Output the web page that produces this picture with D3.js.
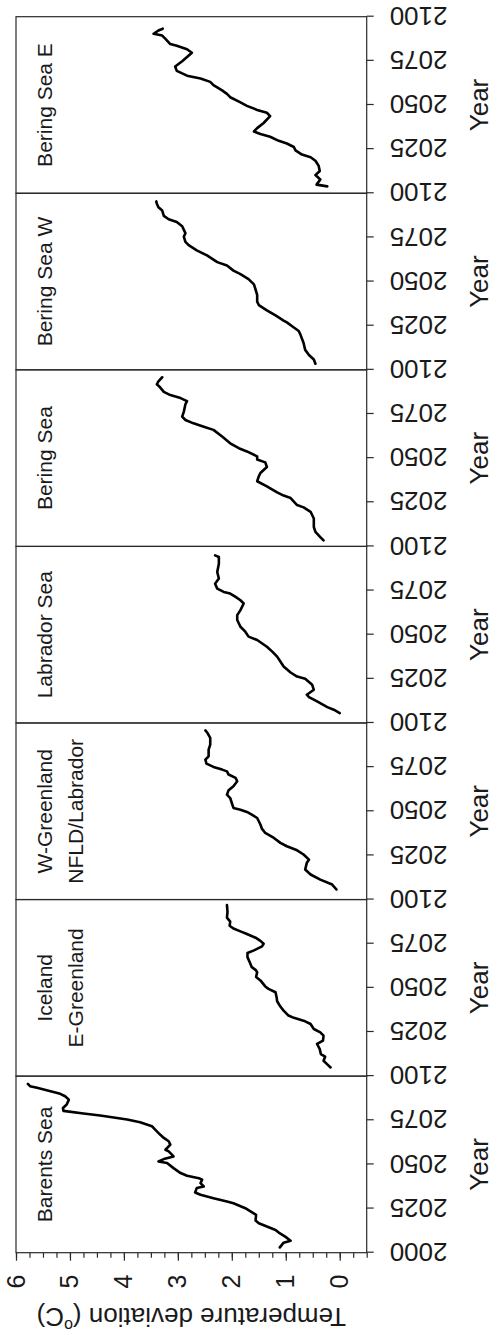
<!DOCTYPE html>
<html><head><meta charset="utf-8">
<script src="https://cdn.jsdelivr.net/npm/d3@7/dist/d3.min.js"></script>
<style>
body{margin:0;background:#fff}
svg{display:block}
text{font-family:"Liberation Sans",Arial,Helvetica,sans-serif;fill:#1a1a1a}
</style>
</head><body>
<svg id="chart" width="497" height="1335"></svg>
<script>
// ---- data ----
const regions = [["Barents Sea"], ["Iceland", "E-Greenland"], ["W-Greenland", "NFLD/Labrador"], ["Labrador Sea"], ["Bering Sea"], ["Bering Sea W"], ["Bering Sea E"]];
const tempTicks = [0, 1, 2, 3, 4, 5, 6];
const yearTicksFirst = [2000, 2025, 2050, 2075, 2100];
const yearTicks = [2025, 2050, 2075, 2100];

const barentsYears = [2003.0, 2005.7, 2006.8, 2009.1, 2011.4, 2012.9, 2014.8, 2016.7, 2018.2, 2021.4, 2025.2, 2028.0, 2029.0, 2030.9, 2032.8, 2034.1, 2036.6, 2037.5, 2039.4, 2041.3, 2042.2, 2043.6, 2045.1, 2047.9, 2050.8, 2051.7, 2053.0, 2054.5, 2057.4, 2058.3, 2061.2, 2063.1, 2065.0, 2066.9, 2069.7, 2071.6, 2073.9, 2075.4, 2077.7, 2078.8, 2080.3, 2082.0, 2083.9, 2086.7, 2088.6, 2090.0, 2091.5, 2093.4, 2094.3, 2095.6];
const barentsTemps = [1.11, 1.04, 0.91, 1.01, 1.13, 1.19, 1.35, 1.50, 1.56, 1.55, 1.75, 1.97, 2.09, 2.34, 2.58, 2.68, 2.65, 2.52, 2.58, 2.55, 2.61, 2.83, 2.95, 3.08, 3.20, 3.36, 3.26, 3.08, 3.17, 3.23, 3.14, 3.17, 3.26, 3.33, 3.42, 3.48, 3.70, 3.94, 4.44, 4.75, 5.12, 5.13, 5.06, 5.02, 5.09, 5.18, 5.36, 5.61, 5.74, 5.78];

const icelandYears = [2004.9, 2007.2, 2008.7, 2011.0, 2012.5, 2015.3, 2018.2, 2020.1, 2022.9, 2024.8, 2026.7, 2029.5, 2031.4, 2033.0, 2034.3, 2037.1, 2039.4, 2042.4, 2044.7, 2047.5, 2049.4, 2050.8, 2054.2, 2056.1, 2058.9, 2060.2, 2061.7, 2064.6, 2067.4, 2069.7, 2071.2, 2073.5, 2075.0, 2076.6, 2078.4, 2080.5, 2082.0, 2083.6, 2085.2, 2087.5, 2089.8, 2093.0, 2096.9];
const icelandTemps = [0.17, 0.25, 0.30, 0.27, 0.35, 0.37, 0.42, 0.31, 0.30, 0.36, 0.48, 0.54, 0.67, 0.85, 0.95, 1.04, 1.10, 1.16, 1.17, 1.19, 1.32, 1.38, 1.47, 1.55, 1.53, 1.56, 1.63, 1.67, 1.71, 1.71, 1.59, 1.44, 1.41, 1.47, 1.56, 1.72, 1.84, 1.97, 2.04, 2.03, 2.09, 2.08, 2.09];

const wGreenlandYears = [2005.7, 2008.5, 2011.3, 2014.2, 2017.0, 2020.8, 2022.6, 2025.5, 2027.9, 2030.2, 2032.1, 2034.9, 2037.7, 2040.0, 2042.5, 2046.2, 2048.1, 2049.6, 2050.9, 2051.9, 2054.7, 2057.5, 2059.4, 2061.9, 2064.2, 2067.0, 2068.9, 2070.8, 2072.6, 2073.6, 2075.1, 2077.0, 2079.2, 2081.1, 2084.9, 2087.7, 2091.5, 2094.3, 2095.8];
const wGreenlandTemps = [0.06, 0.14, 0.36, 0.54, 0.64, 0.61, 0.57, 0.67, 0.79, 0.98, 1.10, 1.22, 1.38, 1.44, 1.47, 1.53, 1.63, 1.72, 1.84, 1.97, 2.00, 2.03, 2.09, 2.06, 1.97, 1.90, 1.93, 2.06, 2.09, 2.18, 2.34, 2.47, 2.49, 2.43, 2.43, 2.40, 2.40, 2.45, 2.49];

const labradorYears = [2005.6, 2007.5, 2009.0, 2012.2, 2014.7, 2016.0, 2018.8, 2021.6, 2025.0, 2026.3, 2028.6, 2032.0, 2034.8, 2037.6, 2040.4, 2043.2, 2047.0, 2048.9, 2051.7, 2054.5, 2058.3, 2061.1, 2063.9, 2067.7, 2069.5, 2071.4, 2073.3, 2074.2, 2076.1, 2078.9, 2081.8, 2085.5, 2090.2, 2094.0, 2094.9];
const labradorTemps = [0.00, 0.11, 0.23, 0.42, 0.57, 0.61, 0.48, 0.51, 0.64, 0.79, 0.91, 1.04, 1.10, 1.16, 1.25, 1.35, 1.53, 1.69, 1.75, 1.84, 1.90, 1.90, 1.84, 1.78, 1.84, 1.93, 2.03, 2.15, 2.27, 2.31, 2.24, 2.27, 2.24, 2.24, 2.31];

const beringYears = [2003.4, 2005.3, 2008.2, 2011.0, 2015.8, 2019.6, 2022.1, 2023.4, 2027.4, 2028.8, 2030.6, 2034.0, 2036.9, 2039.7, 2041.6, 2045.0, 2047.6, 2049.2, 2051.0, 2053.8, 2055.6, 2058.4, 2062.2, 2066.0, 2067.8, 2069.7, 2071.6, 2073.5, 2076.2, 2080.5, 2082.3, 2084.0, 2085.7, 2087.5, 2090.1, 2091.8, 2093.5, 2095.8];
const beringTemps = [0.30, 0.36, 0.45, 0.48, 0.48, 0.54, 0.67, 0.79, 0.91, 1.04, 1.16, 1.35, 1.53, 1.50, 1.47, 1.35, 1.38, 1.53, 1.53, 1.72, 1.87, 2.03, 2.18, 2.34, 2.52, 2.71, 2.86, 2.92, 2.89, 2.86, 2.83, 2.95, 3.14, 3.26, 3.33, 3.39, 3.36, 3.29];

const beringWYears = [2003.5, 2005.9, 2008.4, 2011.3, 2015.2, 2020.1, 2022.0, 2024.0, 2026.9, 2027.9, 2030.8, 2033.7, 2036.7, 2038.6, 2042.5, 2045.5, 2048.4, 2051.4, 2054.2, 2056.2, 2059.1, 2061.0, 2064.8, 2067.7, 2070.6, 2072.5, 2075.4, 2077.4, 2081.3, 2083.7, 2085.3, 2087.2, 2090.2, 2092.1, 2094.1, 2095.4];
const beringWTemps = [0.45, 0.48, 0.57, 0.64, 0.67, 0.73, 0.76, 0.85, 0.98, 1.04, 1.19, 1.35, 1.50, 1.53, 1.53, 1.56, 1.59, 1.69, 1.84, 1.97, 2.09, 2.27, 2.46, 2.65, 2.80, 2.86, 2.89, 2.86, 2.92, 3.02, 3.17, 3.26, 3.29, 3.36, 3.39, 3.40];

const beringEYears = [2003.9, 2004.9, 2007.8, 2010.3, 2012.6, 2015.5, 2018.4, 2020.4, 2021.9, 2024.3, 2026.2, 2028.2, 2029.7, 2032.0, 2033.6, 2035.0, 2036.9, 2039.8, 2043.7, 2045.6, 2047.2, 2049.5, 2051.5, 2054.4, 2056.3, 2058.3, 2061.2, 2063.1, 2065.0, 2066.6, 2069.3, 2071.8, 2074.8, 2079.6, 2081.6, 2083.5, 2084.5, 2087.4, 2089.3, 2090.3, 2092.2, 2093.2];
const beringETemps = [0.23, 0.43, 0.36, 0.45, 0.37, 0.39, 0.45, 0.54, 0.70, 0.82, 0.85, 0.98, 1.13, 1.29, 1.47, 1.59, 1.53, 1.41, 1.29, 1.35, 1.53, 1.72, 1.84, 2.03, 2.09, 2.18, 2.34, 2.40, 2.58, 2.83, 3.02, 3.05, 2.92, 2.74, 2.83, 3.02, 3.14, 3.23, 3.29, 3.45, 3.36, 3.28];

const seriesYears = [barentsYears, icelandYears, wGreenlandYears, labradorYears, beringYears, beringWYears, beringEYears];
const seriesTemps = [barentsTemps, icelandTemps, wGreenlandTemps, labradorTemps, beringTemps, beringWTemps, beringETemps];

// ---- layout (drawn landscape, then rotated -90deg) ----
const W = 1335, H = 497;
const X0 = 82.3, X1 = 1318.3, YT = 16, YB = 366.7;
const pw = (X1 - X0) / regions.length;
const frameColor = "#2a2a2a";

const svg = d3.select("#chart");
const g = svg.append("g").attr("transform", `translate(0,${W}) rotate(-90)`);

const y = d3.scaleLinear().domain([-0.5, 6]).range([YB, YT]);

// temperature axis (minor + major)
g.append("g").attr("transform", `translate(${X0},0)`)
  .call(d3.axisLeft(y).tickValues(d3.range(-0.5, 6.001, 0.25)).tickSize(5).tickFormat(""))
  .call(a => a.select(".domain").remove())
  .call(a => a.selectAll("line").attr("stroke", frameColor).attr("stroke-width", 1.2));
const ta = g.append("g").attr("transform", `translate(${X0},0)`)
  .call(d3.axisLeft(y).tickValues(tempTicks).tickSize(8).tickPadding(14).tickFormat(d3.format("d")));
ta.select(".domain").remove();
ta.selectAll("line").attr("stroke", frameColor).attr("stroke-width", 1.2);
ta.selectAll("text").style("font-size", "25px").attr("fill", "#1a1a1a");

g.append("text")
  .attr("transform", `translate(27,${(YT + YB) / 2}) rotate(-90)`)
  .attr("text-anchor", "middle")
  .style("font-size", "26px")
  .call(t => {
    t.append("tspan").text("Temperature deviation (");
    t.append("tspan").text("o").style("font-size", "16px").attr("dy", "-0.75em");
    t.append("tspan").text("C)").attr("dy", "0.46em").style("font-size", "26px");
  });

const line = d3.line();

regions.forEach((lab, i) => {
  const px = X0 + i * pw;
  const x = d3.scaleLinear().domain([2000, 2100]).range([px, px + pw]);
  const pg = g.append("g");

  // year axis
  const ax = pg.append("g").attr("transform", `translate(0,${YB})`)
    .call(d3.axisBottom(x).tickValues(i === 0 ? yearTicksFirst : yearTicks).tickSize(7).tickFormat(d3.format("d")));
  ax.select(".domain").remove();
  ax.selectAll("line").attr("stroke", frameColor).attr("stroke-width", 1.2);
  ax.selectAll("text")
    .attr("transform", "rotate(-90)")
    .attr("x", -23).attr("y", 0).attr("dy", "0.36em")
    .attr("text-anchor", "end")
    .style("font-size", "26px").attr("fill", "#1a1a1a");

  pg.append("text")
    .attr("x", px + pw / 2).attr("y", 488)
    .attr("text-anchor", "middle")
    .style("font-size", "26px")
    .text("Year");

  // frame
  pg.append("rect")
    .attr("x", px).attr("y", YT).attr("width", pw).attr("height", YB - YT)
    .attr("fill", "none").attr("stroke", frameColor).attr("stroke-width", 1.2);

  // region label
  lab.forEach((s, k) => {
    pg.append("text")
      .attr("x", px + pw / 2).attr("y", 52 + k * 31)
      .attr("text-anchor", "middle")
      .style("font-size", "21px")
      .text(s);
  });

  // series
  const pts = seriesYears[i].map((yr, j) => [x(yr), y(seriesTemps[i][j])]);
  pg.append("path")
    .attr("d", line(pts))
    .attr("fill", "none")
    .attr("stroke", "#000")
    .attr("stroke-width", 2.6)
    .attr("stroke-linejoin", "round")
    .attr("stroke-linecap", "round");
});
</script>
</body></html>
